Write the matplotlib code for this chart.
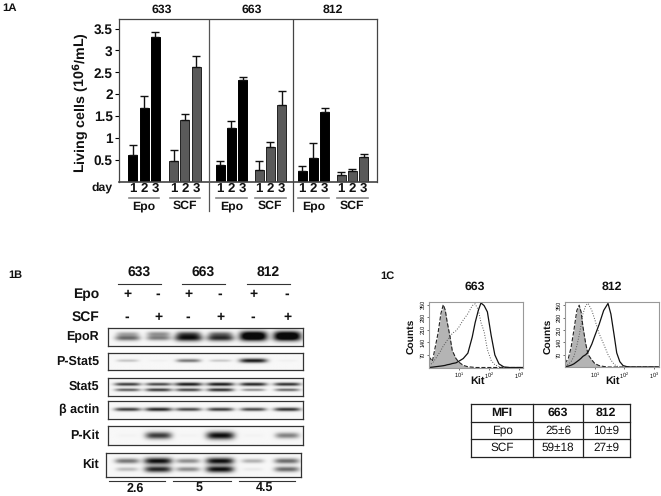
import numpy as np
import matplotlib
matplotlib.use('Agg')
import matplotlib.pyplot as plt

plt.rcParams['font.family'] = ['Liberation Sans', 'DejaVu Sans']
plt.rcParams['text.hinting'] = 'no_hinting'
plt.rcParams['mathtext.default'] = 'regular'
W, H = 661, 496

# 1A bars
clones = ['633', '663', '812']
days = ['1', '2', '3']
epo_means = [[0.60, 1.68, 3.30], [0.38, 1.22, 2.32], [0.24, 0.54, 1.58]]
epo_errs = [[0.24, 0.28, 0.12], [0.10, 0.17, 0.07], [0.12, 0.35, 0.11]]
scf_means = [[0.48, 1.41, 2.62], [0.26, 0.78, 1.74], [0.14, 0.23, 0.56]]
scf_errs = [[0.24, 0.13, 0.26], [0.22, 0.13, 0.33], [0.07, 0.05, 0.08]]
y_ticks = [0.5, 1, 1.5, 2, 2.5, 3, 3.5]
y_labels = ['0.5', '1', '1.5', '2', '2.5', '3', '3.5']

# 1B blots: band intensities per lane, one list per band
lane_plus_epo = ['+', '-', '+', '-', '+', '-']
lane_plus_scf = ['-', '+', '-', '+', '-', '+']
blot_names = ['EpoR', 'P-Stat5', 'Stat5', 'β actin', 'P-Kit', 'Kit']
blot_bands = [
    [[.30, .40, .55, .45, .90, .90], [.60, .50, .95, .85, 1.0, 1.0]],
    [[.22, .03, .55, .20, .95, .03]],
    [[.80, .75, .95, .95, .90, .85], [.65, .80, .75, .85, .45, .60]],
    [[.80, .90, .75, .80, .75, .85]],
    [[.02, .80, .02, 1.0, .02, .50]],
    [[.55, 1.0, .45, 1.0, .30, .60], [.25, .90, .45, 1.0, .06, .60]],
]
blot_band_y = [[.36, .58], [.48], [.38, .68], [.52], [.50], [.33, .68]]
blot_band_h = [.13, .09, .07, .08, .15, .10]
ratios = ['2.6', '5', '4.5']

# 1C histograms, x is Kit intensity
hist_x = [1, 1.3, 1.6, 2, 2.5, 3, 3.5, 4, 5, 6, 8, 10, 14, 20, 28, 35, 45, 55, 70, 90, 120, 160, 220, 320, 500, 1000, 1400]
h663_ctrl = [60, 35, 110, 190, 300, 350, 320, 260, 175, 95, 50, 30, 12, 4, 2, 0, 0, 0, 0, 0, 0, 0, 0, 0, 0, 0, 0]
h663_epo = [10, 25, 45, 70, 95, 120, 135, 150, 170, 190, 205, 225, 265, 300, 345, 355, 320, 250, 200, 100, 40, 15, 5, 0, 0, 0, 0]
h663_scf = [0, 2, 4, 6, 8, 10, 12, 15, 18, 22, 26, 35, 50, 80, 170, 250, 320, 360, 345, 310, 180, 70, 20, 3, 0, 0, 0]
h812_ctrl = [20, 50, 110, 210, 320, 350, 310, 230, 130, 70, 40, 20, 8, 3, 0, 0, 0, 0, 0, 0, 0, 0, 0, 0, 0, 0, 0]
h812_epo = [5, 15, 30, 60, 120, 180, 240, 300, 350, 360, 320, 270, 190, 130, 70, 40, 15, 5, 0, 0, 0, 0, 0, 0, 0, 0, 0]
h812_scf = [2, 5, 10, 18, 30, 40, 50, 60, 70, 85, 130, 175, 240, 320, 360, 300, 180, 80, 30, 8, 2, 0, 0, 0, 0, 0, 0]
count_ticks = [70, 140, 210, 280, 350]
kit_ticks = [10, 100, 1000]
kit_tick_labels = ['10$^1$', '10$^2$', '10$^3$']

# 1C table
table_cols = ['MFI', '663', '812']
table_rows = [['Epo', '25±6', '10±9'], ['SCF', '59±18', '27±9']]


def px_axes(fig, x0, y0, x1, y1):
    return fig.add_axes([x0 / W, 1 - y1 / H, (x1 - x0) / W, (y1 - y0) / H])


fig = plt.figure(figsize=(W / 100, H / 100), dpi=100)
bg = fig.add_axes([0, 0, 1, 1], zorder=5)
bg.set_xlim(0, W)
bg.set_ylim(H, 0)
bg.axis('off')


def label(x, y, s, size=8, weight='bold', **kw):
    kw.setdefault('ha', 'center')
    bg.text(x, y, s, fontsize=size, fontweight=weight, va='center', color='#111111', **kw)


# ---- 1A ----
label(2, 8, '1A', 8.2, ha='left')
ax = px_axes(fig, 119, 19, 376.5, 181.5)
ax.set_xlim(119, 376.5)
ax.set_ylim(0, 3.72)
bar_step = 11.3
epo_start = [132.7, 220, 302]
scf_start = [173.5, 259, 341]
for c in range(3):
    for vals, errs, starts, color, edge in [(epo_means, epo_errs, epo_start, '#000000', '#000000'),
                                            (scf_means, scf_errs, scf_start, '#5a5a5a', '#222222')]:
        xs = [starts[c] + i * bar_step for i in range(3)]
        ax.bar(xs, vals[c], width=9, color=color, edgecolor=edge, linewidth=0.7)
        ax.errorbar(xs, vals[c], yerr=[[0] * 3, errs[c]], fmt='none', ecolor='#111111',
                    elinewidth=1.0, capsize=2.6, capthick=1.0)
        for x, d in zip(xs, days):
            label(x, 189, d, 9.5)
        label(xs[1], 206, 'Epo' if color == '#000000' else 'SCF', 8.8)
        bg.plot([xs[0] - 4, xs[2] + 4], [198, 198], color='#888888', lw=1.2)
    label([162, 252, 333][c], 9.5, clones[c], 8.8)
ax.set_yticks(y_ticks)
ax.set_yticklabels(y_labels, fontsize=9.8, fontweight='bold', color='#111111')
ax.set_xticks([])
ax.tick_params(axis='y', length=3, width=0.8, pad=1.5)
for s in ax.spines.values():
    s.set_color('#444444')
    s.set_linewidth(0.9)
ax.spines['bottom'].set_linewidth(1.2)
bg.plot([208.5, 208.5], [20, 211], color='#555555', lw=0.9)
bg.plot([292.5, 292.5], [20, 211], color='#444444', lw=0.9)
label(113, 188.5, 'day', 8.8, ha='right')
bg.text(80, 103, 'Living cells (10$^{\\mathbf{6}}$/mL)', fontsize=10.3, fontweight='bold', rotation=90,
        ha='center', va='center', color='#111111')

# ---- 1B ----
label(8, 275, '1B', 7.9, ha='left')
for x0, name in zip([118, 182, 247], clones):
    label(x0 + 21.5, 272, name, 10)
    bg.plot([x0, x0 + 43], [284, 284], color='#333333', lw=0.8)
lanes_x = [127, 158, 188, 220, 253, 287]
for lx, e, s in zip(lanes_x, lane_plus_epo, lane_plus_scf):
    label(lx, 294, e, 10)
    label(lx, 317, s, 10)
label(99, 294, 'Epo', 10, ha='right')
label(99, 317, 'SCF', 10, ha='right')

blot_top = [327.5, 352.5, 377.5, 401, 426, 453]
blot_bot = [346, 370, 396, 418.5, 445, 476.5]
blot_left = [107.5, 107.5, 107.5, 107.5, 107.5, 106]
blot_right = [302.5, 302.5, 302.5, 302.5, 302.5, 301]
for b, name in enumerate(blot_names):
    a = px_axes(fig, blot_left[b], blot_top[b], blot_right[b], blot_bot[b])
    n_y, n_x = 60, 400
    xx = np.linspace(blot_left[b], blot_right[b], n_x)
    yy = np.linspace(0, 1, n_y)
    dark = np.zeros((n_y, n_x))
    for band, by in zip(blot_bands[b], blot_band_y[b]):
        for lx, v in zip(lanes_x, band):
            half = 10 + 4 * v
            prof_x = np.exp(-((xx - lx) / half) ** 4)
            prof_y = np.exp(-((yy - by) / (blot_band_h[b] * (0.7 + 0.7 * v))) ** 2)
            dark += v * np.outer(prof_y, prof_x)
    img = 0.97 - 0.93 * np.clip(dark, 0, 1)
    a.imshow(img, cmap='gray', vmin=0, vmax=1, aspect='auto', interpolation='bilinear')
    a.set_xticks([])
    a.set_yticks([])
    for s in a.spines.values():
        s.set_color('#333333')
        s.set_linewidth(0.9)
    label(99, (blot_top[b] + blot_bot[b]) / 2, name, 9, ha='right')
for x0, x1, r, tx in zip([109, 173, 239], [165, 231, 295], ratios, [135, 199, 264]):
    bg.plot([x0, x1], [480.5, 480.5], color='#333333', lw=0.8)
    label(tx, 489, r, 9)

# ---- 1C ----
label(380, 276, '1C', 8, ha='left')


def histogram(box, ctrl, epo, scf, name, name_x, ylab_x, kit_x):
    a = px_axes(fig, *box)
    a.set_xscale('log')
    a.set_xlim(1, 1400)
    a.set_ylim(0, 368)
    a.fill_between(hist_x, ctrl, color='#b4b4b4', lw=0)
    a.plot(hist_x, ctrl, color='#222222', lw=0.8, ls='--')
    a.plot(hist_x, epo, color='#555555', lw=0.7, ls=':')
    a.plot(hist_x, scf, color='#111111', lw=0.9)
    a.set_xticks(kit_ticks)
    a.set_xticklabels(kit_tick_labels, fontsize=4)
    a.minorticks_off()
    a.set_yticks(count_ticks)
    a.set_yticklabels(count_ticks, fontsize=4, rotation=90, va='center')
    a.tick_params(length=1.5, width=0.4, pad=1)
    for s in a.spines.values():
        s.set_color('#999999')
        s.set_linewidth(0.8)
    label(name_x, 287, name, 8.8)
    bg.text(ylab_x, 336, 'Counts', fontsize=7.4, fontweight='bold', rotation=90, ha='center', va='center', color='#111111')
    label(kit_x, 382.5, 'Kit', 7.8)


histogram((429, 301.5, 523, 367.5), h663_ctrl, h663_epo, h663_scf, '663', 475, 412, 478)
histogram((565, 302, 658.5, 367), h812_ctrl, h812_epo, h812_scf, '812', 612, 549, 613)

col_x = [471, 533, 583, 629.5]
row_y = [404, 422, 439, 457]
for x in col_x:
    bg.plot([x, x], [row_y[0], row_y[-1]], color='#222222', lw=0.9)
for y in row_y:
    bg.plot([col_x[0], col_x[-1]], [y, y], color='#222222', lw=0.9)
for j, t in enumerate(table_cols):
    label((col_x[j] + col_x[j + 1]) / 2, (row_y[0] + row_y[1]) / 2, t, 8.8)
for i, row in enumerate(table_rows):
    for j, t in enumerate(row):
        label((col_x[j] + col_x[j + 1]) / 2, (row_y[i + 1] + row_y[i + 2]) / 2, t, 8.5, weight='normal')

bg.set_xlim(0, W)
bg.set_ylim(H, 0)
fig.savefig('out.png', dpi=100)
